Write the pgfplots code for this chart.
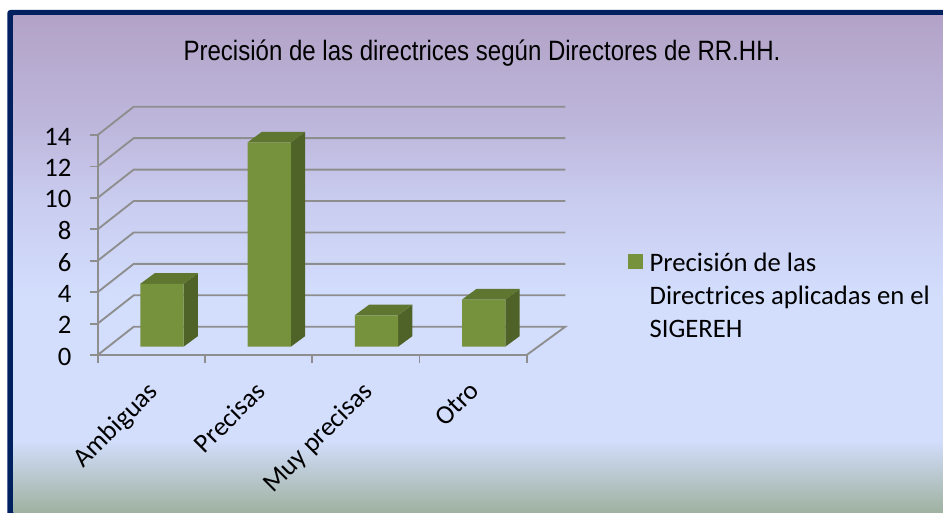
\documentclass[border=0pt]{standalone}
\usepackage{fontspec}
\setmainfont{Carlito}
\newfontfamily\titlefont{Liberation Sans}
\usepackage{pgfplots}
\pgfplotsset{compat=1.18}
\newlength\px \setlength\px{0.75pt}
\definecolor{navy}{HTML}{002060}
\definecolor{gridc}{HTML}{8E8E8E}
\definecolor{barfront}{HTML}{76923C}
\definecolor{barside}{HTML}{4F6228}
\definecolor{bartop}{HTML}{5E762F}
\definecolor{bga}{HTML}{B3A2C7}
\definecolor{bgb}{HTML}{BEB8DD}
\definecolor{bgc}{HTML}{C9CCEF}
\definecolor{bgd}{HTML}{D3DEFD}
\definecolor{bge}{HTML}{9FB2A1}
\pgfdeclareverticalshading{bgshade}{100bp}{color(0bp)=(bge); color(25bp)=(bge); color(32.3bp)=(bgd); color(46.4bp)=(bgd); color(56.5bp)=(bgc); color(63.5bp)=(bgb); color(75bp)=(bga); color(100bp)=(bga)}
\begin{document}
\begin{tikzpicture}[x=1pt,y=1pt]
\path[use as bounding box] (0,0) rectangle (943\px,512\px);
\clip (0,0) rectangle (943\px,512\px);
\fill[white] (0,0) rectangle (943\px,512\px);
\fill[navy,rounded corners=3\px] (7.3\px,-20\px) rectangle (970\px,502\px);
\shade[shading=bgshade] (13.3\px,0) rectangle (943\px,496\px);
\node[font=\titlefont\fontsize{21pt}{25pt}\selectfont,text=black,inner sep=0pt] at (482\px,459\px) {\scalebox{0.858}[1]{Precisión de las directrices según Directores de RR.HH.}};
\begin{axis}[
  at={(97.7\px,157\px)},anchor=south west,
  scale only axis,width=429\px,height=220\px,
  clip=false,
  xmin=-0.5,xmax=3.5,ymin=0,ymax=14,
  axis x line*=bottom,axis y line*=left,
  axis line style={gridc,line width=1.4pt},
  xtick={0,1,2,3},
  xticklabels={Ambiguas,Precisas,Muy precisas,Otro},
  minor xtick={-0.5,0.5,1.5,2.5,3.5},
  ytick={0,2,...,14},
  tick align=outside,
  major tick length=8\px,minor tick length=8\px,
  major x tick style={draw=none},
  minor x tick style={gridc,line width=1.4pt},
  major y tick style={gridc,line width=1.4pt},
  tick label style={font=\fontsize{20pt}{24pt}\selectfont,text=black},
  /pgf/number format/assume math mode=true,
  x tick label style={rotate=45,anchor=north east,inner sep=0pt,xshift=-15.5\px,yshift=-8.3\px},
  y tick label style={anchor=east,inner sep=0pt,xshift=-18\px,yshift=-1.5\px},
  legend style={at={(628\px-97.7\px,355\px-254\px)},anchor=north west,draw=none,fill=none,inner sep=0pt,outer sep=0pt,
    legend cell align=left,font=\fontsize{20pt}{24.4pt}\selectfont},
  legend image code/.code={\fill[barfront] (0pt,0pt) rectangle (11.25pt,11.4pt);},
]
% back wall and floor lines
\addplot[gridc,line width=1.4pt,forget plot] coordinates {(3.5,0) (3.86,1.8) (-0.164,1.8) (-0.5,0)};
\addplot[gridc,line width=1.4pt,forget plot] coordinates {(-0.5,2) (-0.164,3.8) (3.86,3.8)};
\addplot[gridc,line width=1.4pt,forget plot] coordinates {(-0.5,4) (-0.164,5.8) (3.86,5.8)};
\addplot[gridc,line width=1.4pt,forget plot] coordinates {(-0.5,6) (-0.164,7.8) (3.86,7.8)};
\addplot[gridc,line width=1.4pt,forget plot] coordinates {(-0.5,8) (-0.164,9.8) (3.86,9.8)};
\addplot[gridc,line width=1.4pt,forget plot] coordinates {(-0.5,10) (-0.164,11.8) (3.86,11.8)};
\addplot[gridc,line width=1.4pt,forget plot] coordinates {(-0.5,12) (-0.164,13.8) (3.86,13.8)};
\addplot[gridc,line width=1.4pt,forget plot] coordinates {(-0.5,14) (-0.164,15.8) (3.86,15.8)};
% side faces
\addplot[fill=barside,draw=none,forget plot,xshift=10.6\px,yshift=8.3\px] coordinates {(0.202,0) (0.202,4) (0.336,4.675) (0.336,0.675)} --cycle;
\addplot[fill=barside,draw=none,forget plot,xshift=10.6\px,yshift=8.3\px] coordinates {(1.202,0) (1.202,13) (1.336,13.675) (1.336,0.675)} --cycle;
\addplot[fill=barside,draw=none,forget plot,xshift=10.6\px,yshift=8.3\px] coordinates {(2.202,0) (2.202,2) (2.336,2.675) (2.336,0.675)} --cycle;
\addplot[fill=barside,draw=none,forget plot,xshift=10.6\px,yshift=8.3\px] coordinates {(3.202,0) (3.202,3) (3.336,3.675) (3.336,0.675)} --cycle;
% top faces
\addplot[fill=bartop,draw=none,forget plot,xshift=10.6\px,yshift=8.3\px] coordinates {(-0.202,4) (0.202,4) (0.336,4.675) (-0.068,4.675)} --cycle;
\addplot[fill=bartop,draw=none,forget plot,xshift=10.6\px,yshift=8.3\px] coordinates {(0.798,13) (1.202,13) (1.336,13.675) (0.932,13.675)} --cycle;
\addplot[fill=bartop,draw=none,forget plot,xshift=10.6\px,yshift=8.3\px] coordinates {(1.798,2) (2.202,2) (2.336,2.675) (1.932,2.675)} --cycle;
\addplot[fill=bartop,draw=none,forget plot,xshift=10.6\px,yshift=8.3\px] coordinates {(2.798,3) (3.202,3) (3.336,3.675) (2.932,3.675)} --cycle;
% front faces
\addplot[ybar,bar width=43.3\px,bar shift=0pt,fill=barfront,draw=none,xshift=10.6\px,yshift=8.3\px] coordinates {(0,4) (1,13) (2,2) (3,3)};
\addlegendentry{\hspace*{3pt}\raisebox{3.4pt}[0pt][0pt]{\parbox[t]{285\px}{Precisión de las\\Directrices aplicadas en el\\SIGEREH}}}
\end{axis}
\end{tikzpicture}
\end{document}
